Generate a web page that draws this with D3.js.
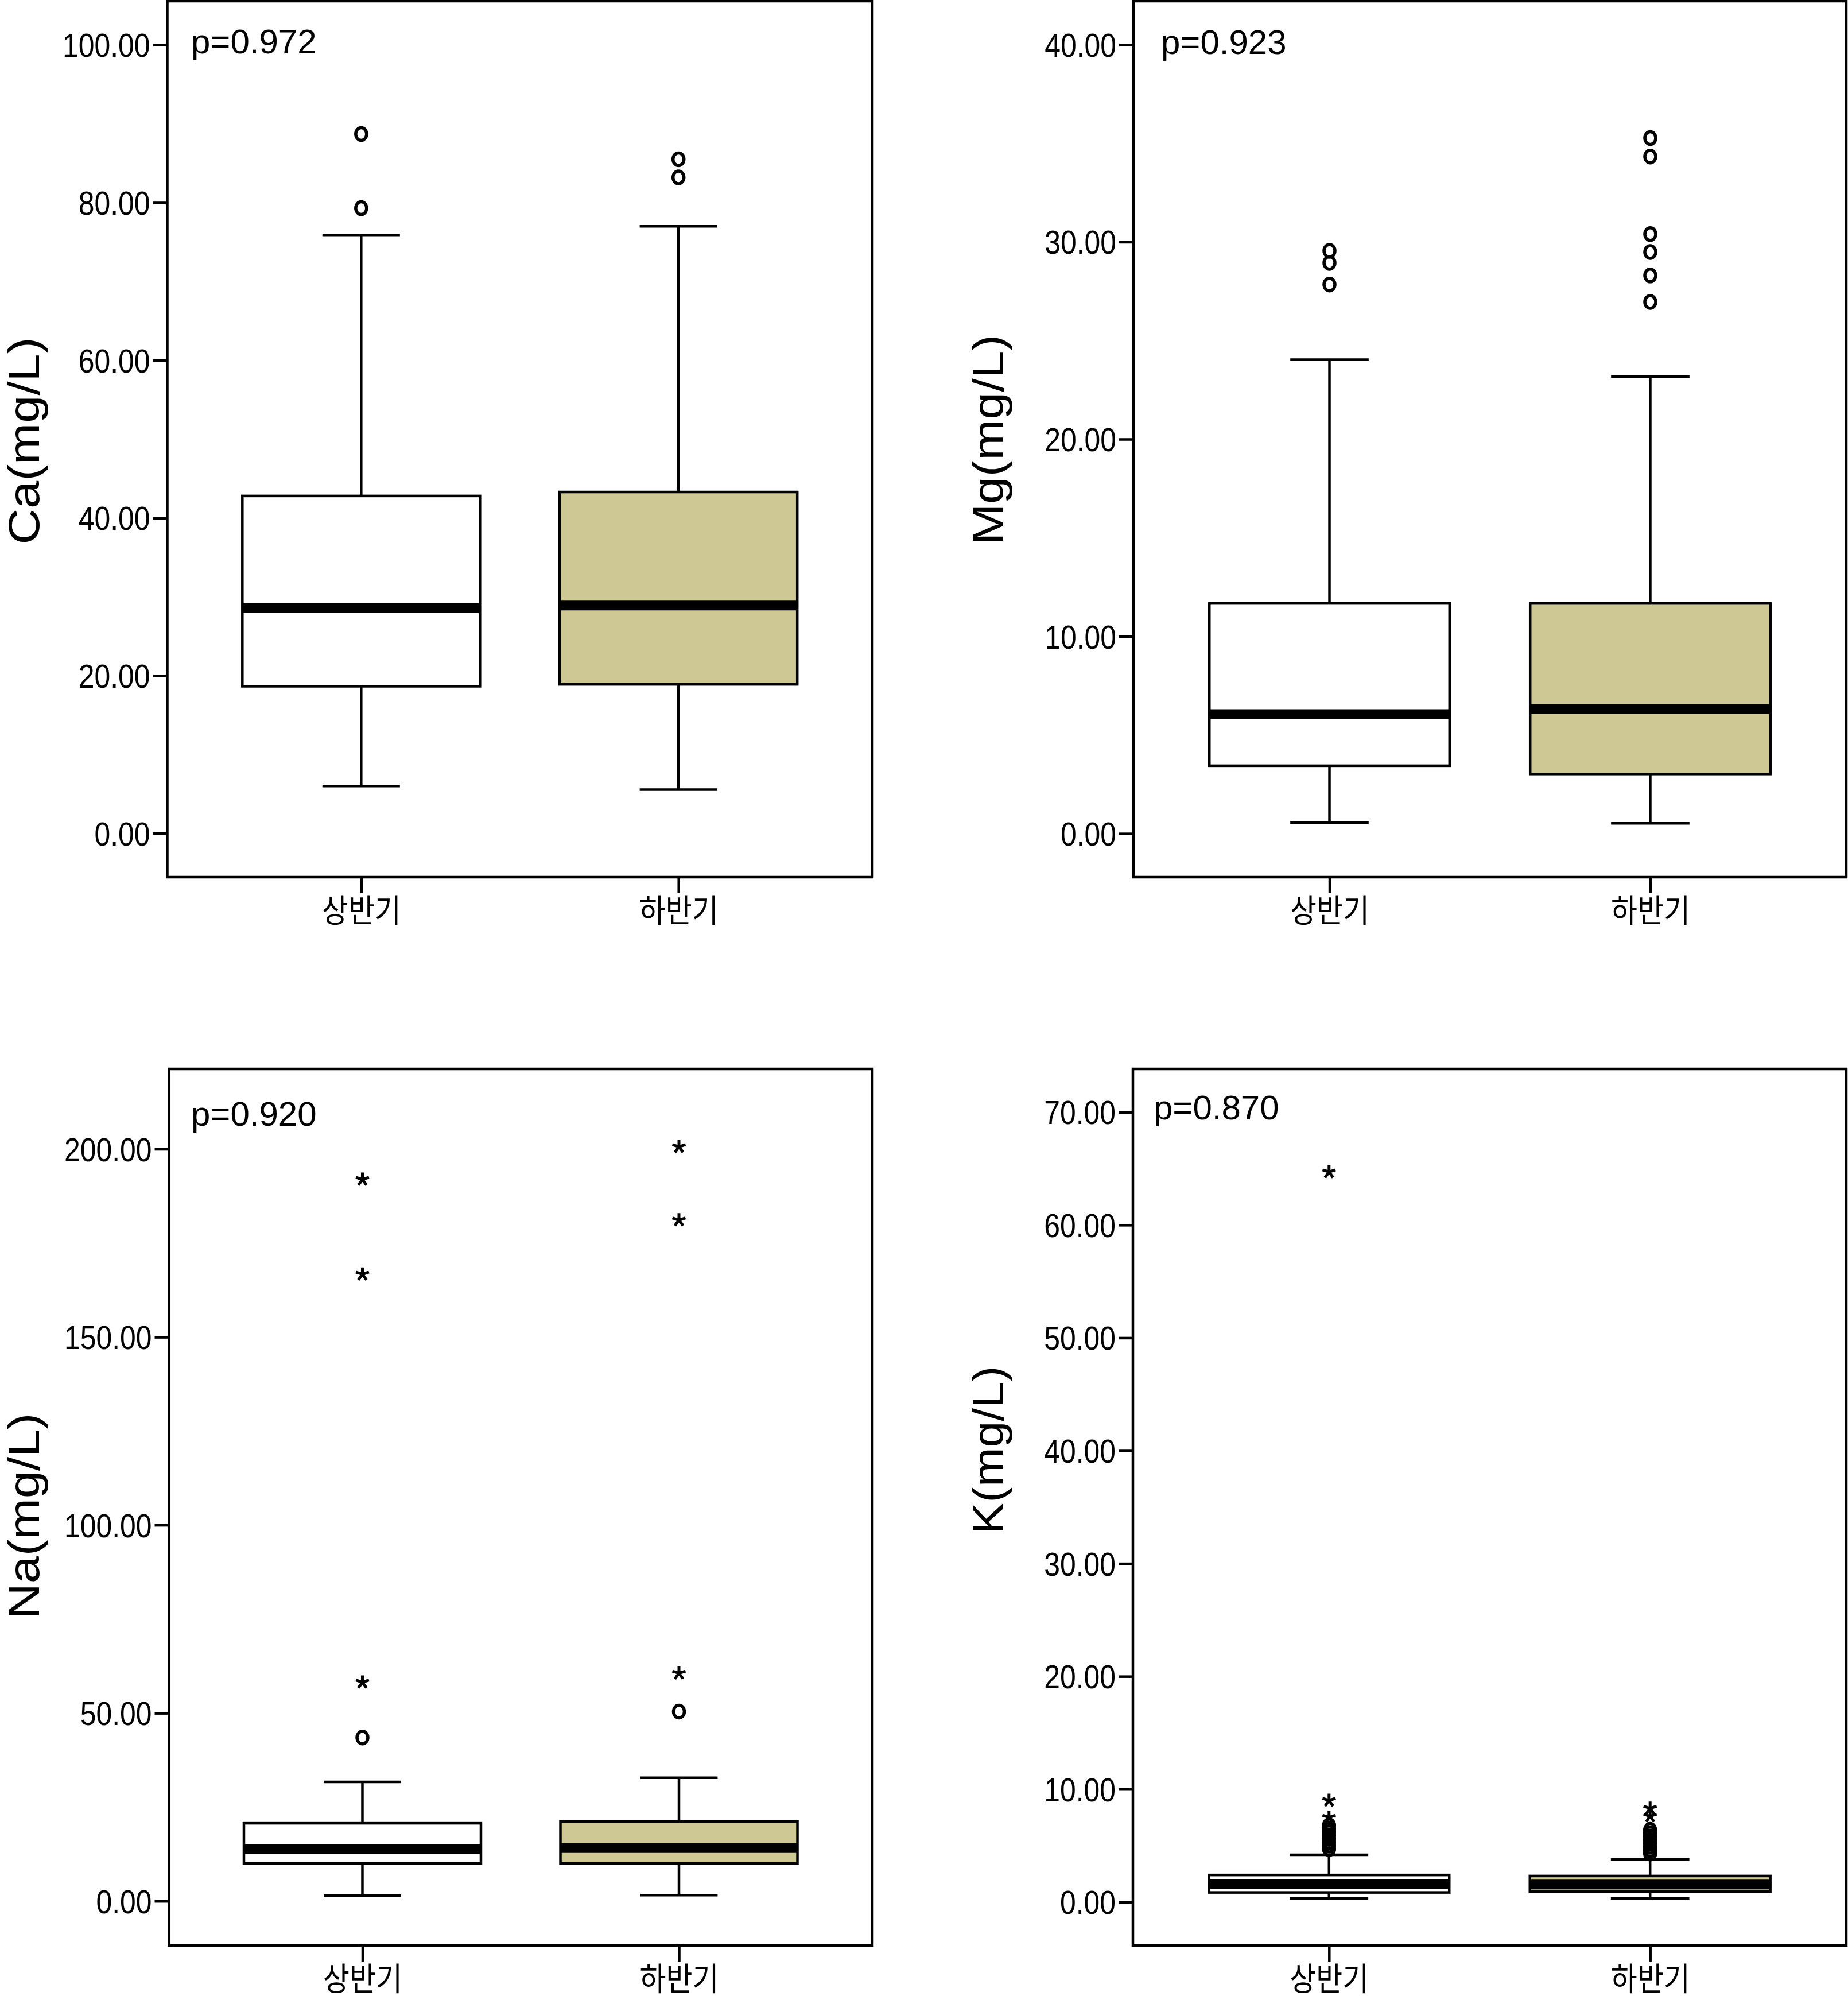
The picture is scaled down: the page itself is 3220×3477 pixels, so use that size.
<!DOCTYPE html>
<html><head><meta charset="utf-8">
<script src="https://cdn.jsdelivr.net/npm/d3@7"></script>
<style>body{margin:0;background:#fff}</style>
</head><body>
<script>
// ---------- data ----------
const categories = ["상반기", "하반기"];
const pValues = ["p=0.972", "p=0.923", "p=0.920", "p=0.870"];
const yTitles = ["Ca(mg/L)", "Mg(mg/L)", "Na(mg/L)", "K(mg/L)"];
// [lower whisker, Q1, median, Q3, upper whisker] per category
const caStats = [[6.0, 18.66, 28.56, 42.8, 75.9], [5.56, 18.9, 28.9, 43.3, 77.0]];
const caOutliers = [[79.3, 88.7], [83.2, 85.5]];
const caExtremes = [[], []];
const caTicks = [0, 20, 40, 60, 80, 100];

const mgStats = [[0.55, 3.44, 6.06, 11.67, 24.03], [0.52, 3.02, 6.31, 11.67, 23.18]];
const mgOutliers = [[27.84, 28.94, 29.55], [26.96, 28.3, 29.49, 30.4, 34.33, 35.27]];
const mgExtremes = [[], []];
const mgTicks = [0, 10, 20, 30, 40];

const naStats = [[1.45, 10.0, 13.9, 20.7, 31.7], [1.6, 10.0, 14.1, 21.2, 32.8]];
const naOutliers = [[43.5], [50.4]];
const naExtremes = [[58.2, 166.7, 191.9], [60.6, 181.1, 200.6]];
const naTicks = [0, 50, 100, 150, 200];

const kStats = [[0.33, 0.85, 1.6, 2.4, 4.19], [0.33, 0.92, 1.55, 2.31, 3.78]];
const kOutliers = [[4.7, 5.0, 5.3, 5.6, 5.9, 6.2, 6.5, 6.8], [4.3, 4.6, 4.9, 5.2, 5.5, 5.8, 6.1, 6.4]];
const kExtremes = [[7.5, 9.0, 64.7], [7.6, 8.3]];
const kTicks = [0, 10, 20, 30, 40, 50, 60, 70];

const boxFills = ["#ffffff", "#cec994"];

// ---------- layout ----------
const layout = [
  {left: 291.5, top: 2, right: 1520, bottom: 1528, domain: [-5.55, 105.55], titleX: 68, titleY: 768, titleLen: 361, pX: 333, pY: 93},
  {left: 1975, top: 2, right: 3217, bottom: 1528, domain: [-2.21, 42.21], titleX: 1748, titleY: 766, titleLen: 366, pX: 2023, pY: 94},
  {left: 294.5, top: 1862, right: 1520, bottom: 3389, domain: [-11.8, 221.3], titleX: 68, titleY: 2641, titleLen: 359, pX: 333, pY: 1961},
  {left: 1974, top: 1862, right: 3217, bottom: 3389, domain: [-3.85, 73.83], titleX: 1748, titleY: 2526, titleLen: 293, pX: 2010, pY: 1950}
];
const panelData = [
  {stats: caStats, out: caOutliers, ext: caExtremes, ticks: caTicks},
  {stats: mgStats, out: mgOutliers, ext: mgExtremes, ticks: mgTicks},
  {stats: naStats, out: naOutliers, ext: naExtremes, ticks: naTicks},
  {stats: kStats, out: kOutliers, ext: kExtremes, ticks: kTicks}
];

const W = 3220, H = 3477;
const LW = 4.5;
const svg = d3.select("body").append("svg").attr("width", W).attr("height", H)
  .style("background", "#fff");

const asterisk5 = {
  draw(ctx, size) {
    const r = Math.sqrt(size) / 2;
    for (let k = 0; k < 5; k++) {
      const a = k * 2 * Math.PI / 5;
      ctx.moveTo(0, 0);
      ctx.lineTo(r * Math.sin(a), -r * Math.cos(a));
    }
  }
};
const starPath = d3.symbol().type(asterisk5).size(576)();

layout.forEach((L, pi) => {
  const D = panelData[pi];
  const g = svg.append("g");
  const wid = L.right - L.left;
  const y = d3.scaleLinear().domain(L.domain).range([L.bottom, L.top]);
  const x = d3.scalePoint().domain(categories).range([L.left, L.right]).padding(0.611);
  const bw = wid * 0.337, cw = wid * 0.11;

  // y axis
  const ya = g.append("g").attr("transform", `translate(${L.left},0)`)
    .call(d3.axisLeft(y).tickValues(D.ticks).tickSize(25).tickPadding(5).tickFormat(d3.format(".2f")));
  ya.select(".domain").remove();
  ya.selectAll(".tick line").attr("stroke", "#000").attr("stroke-width", LW);
  ya.selectAll(".tick text").attr("fill", "#000")
    .style("font-family", "'Liberation Sans', sans-serif")
    .style("font-size", "57px").attr("dy", "0.36em")
    .each(function () {
      const w = this.getComputedTextLength();
      d3.select(this).attr("textLength", w * 0.875).attr("lengthAdjust", "spacingAndGlyphs");
    });

  // x axis
  const xa = g.append("g").attr("transform", `translate(0,${L.bottom})`)
    .call(d3.axisBottom(x).tickSize(28));
  xa.select(".domain").remove();
  xa.selectAll(".tick line").attr("stroke", "#000").attr("stroke-width", LW);
  xa.selectAll(".tick text").attr("fill", "#000")
    .style("font-family", "'Noto Sans CJK KR', sans-serif")
    .style("font-size", "56px")
    .attr("y", 78).attr("dy", null)
    .attr("textLength", 138).attr("lengthAdjust", "spacingAndGlyphs");

  // boxes
  categories.forEach((c, i) => {
    const [lw, q1, med, q3, uw] = D.stats[i];
    const cx = x(c);
    const bg = g.append("g");
    bg.append("line").attr("x1", cx).attr("x2", cx).attr("y1", y(uw)).attr("y2", y(q3))
      .attr("stroke", "#000").attr("stroke-width", LW);
    bg.append("line").attr("x1", cx).attr("x2", cx).attr("y1", y(q1)).attr("y2", y(lw))
      .attr("stroke", "#000").attr("stroke-width", LW);
    [uw, lw].forEach(v => bg.append("line").attr("x1", cx - cw / 2).attr("x2", cx + cw / 2)
      .attr("y1", y(v)).attr("y2", y(v)).attr("stroke", "#000").attr("stroke-width", LW));
    bg.append("rect").attr("x", cx - bw / 2).attr("width", bw)
      .attr("y", y(q3)).attr("height", y(q1) - y(q3))
      .attr("fill", boxFills[i]).attr("stroke", "#000").attr("stroke-width", LW);
    bg.append("line").attr("x1", cx - bw / 2).attr("x2", cx + bw / 2)
      .attr("y1", y(med)).attr("y2", y(med)).attr("stroke", "#000").attr("stroke-width", 17);
    bg.selectAll("ellipse").data(D.out[i]).join("ellipse")
      .attr("cx", cx).attr("cy", d => y(d)).attr("rx", 9.5).attr("ry", 11)
      .attr("fill", "none").attr("stroke", "#000").attr("stroke-width", 5.5);
    bg.selectAll("path.star").data(D.ext[i]).join("path").attr("class", "star")
      .attr("d", starPath).attr("transform", d => `translate(${cx},${y(d)})`)
      .attr("fill", "none").attr("stroke", "#000").attr("stroke-width", 5);
  });

  // frame
  g.append("rect").attr("x", L.left).attr("y", L.top).attr("width", wid).attr("height", L.bottom - L.top)
    .attr("fill", "none").attr("stroke", "#000").attr("stroke-width", LW);

  // p value
  g.append("text").attr("x", L.pX).attr("y", L.pY).text(pValues[pi])
    .style("font-family", "'Liberation Sans', Arial, sans-serif").style("font-size", "60px");

  // y title
  g.append("text").attr("transform", `translate(${L.titleX},${L.titleY}) rotate(-90)`)
    .attr("text-anchor", "middle").text(yTitles[pi])
    .attr("textLength", L.titleLen).attr("lengthAdjust", "spacingAndGlyphs")
    .style("font-family", "'Liberation Sans', Arial, sans-serif").style("font-size", "76px");
});
</script>
</body></html>
